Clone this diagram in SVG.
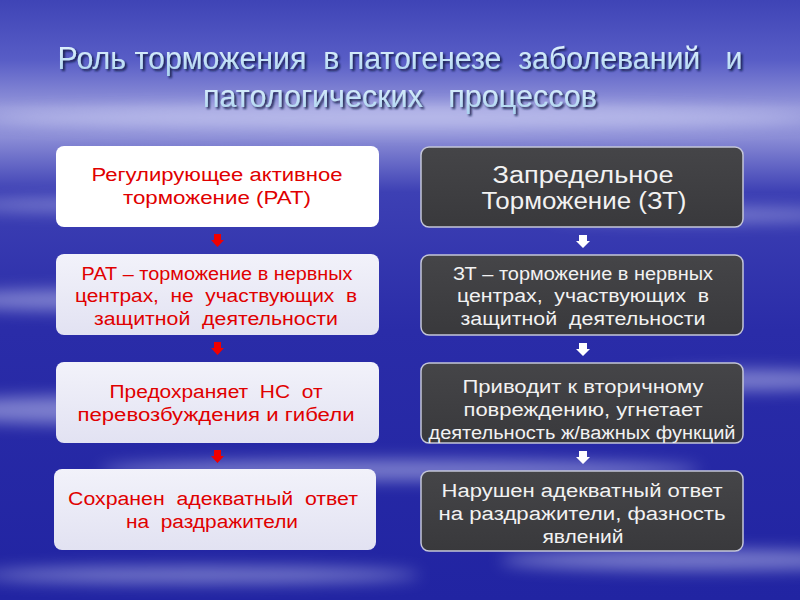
<svg xmlns="http://www.w3.org/2000/svg" width="800" height="600" viewBox="0 0 800 600">
  <defs>
    <linearGradient id="bg" x1="0" y1="0" x2="0" y2="1">
      <stop offset="0" stop-color="#3f44b6"/>
      <stop offset="0.1" stop-color="#585dc6"/>
      <stop offset="0.18" stop-color="#9496da"/>
      <stop offset="0.23" stop-color="#8a8cd6"/>
      <stop offset="0.32" stop-color="#3d40b4"/>
      <stop offset="0.55" stop-color="#2a2ca8"/>
      <stop offset="1" stop-color="#2124a2"/>
    </linearGradient>
    <linearGradient id="light" x1="0" y1="0" x2="0" y2="1">
      <stop offset="0" stop-color="#f2f2fa"/>
      <stop offset="1" stop-color="#e2e2f2"/>
    </linearGradient>
    <linearGradient id="dark" x1="0" y1="0" x2="0" y2="1">
      <stop offset="0" stop-color="#454548"/>
      <stop offset="1" stop-color="#39393c"/>
    </linearGradient>
    <linearGradient id="titleFill" x1="0" y1="0" x2="0" y2="1">
      <stop offset="0" stop-color="#e6f6ff"/>
      <stop offset="1" stop-color="#a9d2f0"/>
    </linearGradient>
    <filter id="blur" x="-50%" y="-200%" width="200%" height="500%">
      <feGaussianBlur stdDeviation="8"/>
    </filter>
    <filter id="shadow" x="-10%" y="-60%" width="120%" height="220%">
      <feDropShadow dx="2" dy="2" stdDeviation="0.8" flood-color="#101840" flood-opacity="0.9"/>
    </filter>
    <style>
      text { white-space: pre; }
      .title { font-family: "Liberation Sans Narrow", "Liberation Sans", Arial, sans-serif; font-size: 31px; fill: url(#titleFill); text-anchor: middle; }
      .lt { font-family: "Liberation Sans", Arial, sans-serif; font-size: 18px; fill: #e00000; text-anchor: middle; }
      .rt { font-family: "Liberation Sans", Arial, sans-serif; font-size: 18px; fill: #f2f2f2; text-anchor: middle; }
      .rbig { font-size: 23px; }
      .lbox { fill: url(#light); }
      .lbox0 { fill: #ffffff; }
      .rbox { fill: url(#dark); stroke: #c4c6d8; stroke-width: 1.5; }
      .red { fill: #f00000; }
      .white { fill: #ffffff; }
    </style>
  </defs>

  <!-- background -->
  <rect x="0" y="0" width="800" height="600" fill="url(#bg)"/>
  <g opacity="0.45" filter="url(#blur)" fill="#e8eaff">
    <ellipse cx="400" cy="118" rx="420" ry="12"/>
    <ellipse cx="150" cy="205" rx="200" ry="6"/>
    <ellipse cx="700" cy="215" rx="150" ry="6"/>
    <ellipse cx="80" cy="300" rx="140" ry="10"/>
    <ellipse cx="100" cy="410" rx="180" ry="14"/>
    <ellipse cx="750" cy="380" rx="120" ry="10"/>
    <ellipse cx="400" cy="470" rx="300" ry="10"/>
    <ellipse cx="700" cy="560" rx="200" ry="10"/>
    <ellipse cx="200" cy="575" rx="220" ry="8"/>
  </g>

  <!-- title -->
  <g id="title" filter="url(#shadow)">
    <text class="title" x="400" y="69" textLength="685" lengthAdjust="spacingAndGlyphs">Роль торможения  в патогенезе  заболеваний   и</text>
    <text class="title" x="400" y="107" textLength="394" lengthAdjust="spacingAndGlyphs">патологических   процессов</text>
  </g>

  <!-- connectors -->
  <g id="connectors">
    <path class="red" d="M214,234 H221 V240 H224 L217.5,247 L211,240 H214 Z"/>
    <path class="red" d="M214,342 H221 V348 H224 L217.5,355 L211,348 H214 Z"/>
    <path class="red" d="M214,450 H221 V456 H224 L217.5,463 L211,456 H214 Z"/>
    <path class="white" d="M579,235 H587 V241 H590 L583,248 L576,241 H579 Z"/>
    <path class="white" d="M579,343 H587 V349 H590 L583,356 L576,349 H579 Z"/>
    <path class="white" d="M579,451 H587 V457 H590 L583,464 L576,457 H579 Z"/>
  </g>

  <!-- left column -->
  <g id="rat">
    <rect class="lbox0" x="56" y="146" width="323" height="81" rx="8"/>
    <text class="lt" x="217" y="181" textLength="251" lengthAdjust="spacingAndGlyphs">Регулирующее активное</text>
    <text class="lt" x="217" y="204" textLength="188" lengthAdjust="spacingAndGlyphs">торможение (РАТ)</text>
  </g>
  <g id="rat-def">
    <rect class="lbox" x="56" y="254" width="323" height="81" rx="8"/>
    <text class="lt" x="217" y="280" textLength="271" lengthAdjust="spacingAndGlyphs">РАТ – торможение в нервных</text>
    <text class="lt" x="216" y="302" textLength="282" lengthAdjust="spacingAndGlyphs">центрах,  не  участвующих  в</text>
    <text class="lt" x="216" y="325" textLength="244" lengthAdjust="spacingAndGlyphs">защитной  деятельности</text>
  </g>
  <g id="rat-protect">
    <rect class="lbox" x="56" y="362" width="323" height="81" rx="8"/>
    <text class="lt" x="216" y="398" textLength="213" lengthAdjust="spacingAndGlyphs">Предохраняет  НС  от</text>
    <text class="lt" x="216" y="421" textLength="277" lengthAdjust="spacingAndGlyphs">перевозбуждения и гибели</text>
  </g>
  <g id="rat-response">
    <rect class="lbox" x="54" y="469" width="322" height="81" rx="8"/>
    <text class="lt" x="213" y="505" textLength="290" lengthAdjust="spacingAndGlyphs">Сохранен  адекватный  ответ</text>
    <text class="lt" x="212" y="528" textLength="172" lengthAdjust="spacingAndGlyphs">на  раздражители</text>
  </g>

  <!-- right column -->
  <g id="zt">
    <rect class="rbox" x="421" y="147" width="322" height="80" rx="8"/>
    <text class="rt rbig" x="583" y="183" textLength="181" lengthAdjust="spacingAndGlyphs">Запредельное</text>
    <text class="rt rbig" x="584" y="209" textLength="205" lengthAdjust="spacingAndGlyphs">Торможение (ЗТ)</text>
  </g>
  <g id="zt-def">
    <rect class="rbox" x="421" y="255" width="322" height="80" rx="8"/>
    <text class="rt" x="583" y="280" textLength="260" lengthAdjust="spacingAndGlyphs">ЗТ – торможение в нервных</text>
    <text class="rt" x="583" y="302" textLength="252" lengthAdjust="spacingAndGlyphs">центрах,  участвующих  в</text>
    <text class="rt" x="583" y="325" textLength="245" lengthAdjust="spacingAndGlyphs">защитной  деятельности</text>
  </g>
  <g id="zt-damage">
    <rect class="rbox" x="421" y="363" width="322" height="80" rx="8"/>
    <text class="rt" x="583" y="393" textLength="241" lengthAdjust="spacingAndGlyphs">Приводит к вторичному</text>
    <text class="rt" x="583" y="416" textLength="239" lengthAdjust="spacingAndGlyphs">повреждению, угнетает</text>
    <text class="rt" x="582" y="439" textLength="307" lengthAdjust="spacingAndGlyphs">деятельность ж/важных функций</text>
  </g>
  <g id="zt-response">
    <rect class="rbox" x="421" y="471" width="322" height="80" rx="8"/>
    <text class="rt" x="582" y="497" textLength="281" lengthAdjust="spacingAndGlyphs">Нарушен адекватный ответ</text>
    <text class="rt" x="582" y="520" textLength="287" lengthAdjust="spacingAndGlyphs">на раздражители, фазность</text>
    <text class="rt" x="583" y="543" textLength="81" lengthAdjust="spacingAndGlyphs">явлений</text>
  </g>
</svg>
